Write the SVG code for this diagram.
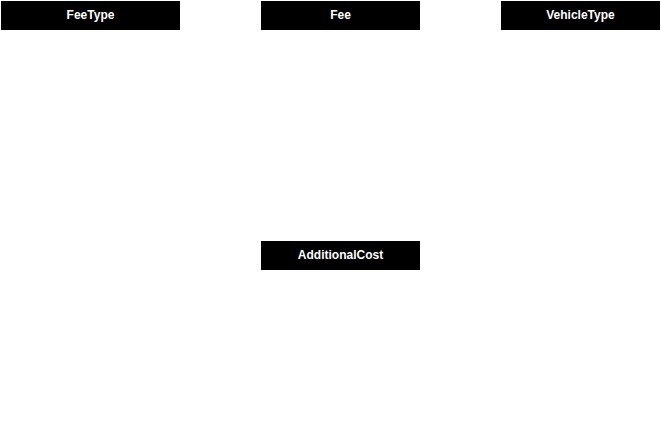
<svg xmlns="http://www.w3.org/2000/svg" width="661" height="422" viewBox="0 0 661 422">
<style>
.box{fill:#000;stroke:none}
.lbl{fill:#fff;font-family:"Liberation Sans",Arial,sans-serif;font-size:12px;font-weight:bold;text-anchor:middle}
</style>
<rect width="661" height="422" fill="#fff"/>
<g id="connectors"></g>
<g id="FeeType"><rect class="box" x="1" y="1" width="179" height="29"/><text class="lbl" x="90.5" y="19">FeeType</text></g>
<g id="Fee"><rect class="box" x="261" y="1" width="159" height="29"/><text class="lbl" x="340.5" y="19">Fee</text></g>
<g id="VehicleType"><rect class="box" x="501" y="1" width="159" height="29"/><text class="lbl" x="580.5" y="19">VehicleType</text></g>
<g id="AdditionalCost"><rect class="box" x="261" y="241" width="159" height="29"/><text class="lbl" x="340.5" y="259">AdditionalCost</text></g>
</svg>
